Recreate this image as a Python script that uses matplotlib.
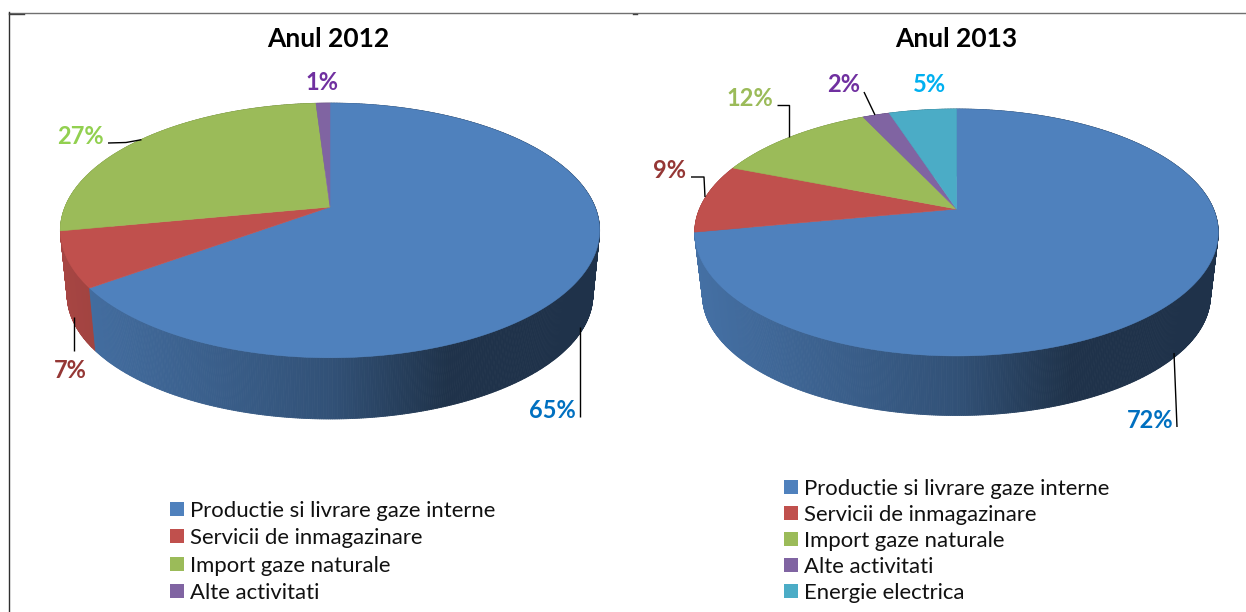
import numpy as np
import matplotlib
matplotlib.use("Agg")
import matplotlib.pyplot as plt
from matplotlib.collections import PolyCollection
from matplotlib.colors import to_rgb
from matplotlib.patches import Polygon, Rectangle

plt.rcParams['font.family'] = ['Lato', 'DejaVu Sans']

# ---- data ----
categories = ["Productie si livrare gaze interne", "Servicii de inmagazinare",
              "Import gaze naturale", "Alte activitati", "Energie electrica"]
values_2012 = [65, 7, 27, 1]
values_2013 = [72, 9, 12, 2, 5]
title_2012 = "Anul 2012"
title_2013 = "Anul 2013"
slice_colors = ["#4f81bd", "#c0504d", "#9bbb59", "#8064a2", "#4bacc6"]

# ---- layout (pixels of the figure) ----
W, H = 1246, 612
fig = plt.figure(figsize=(W / 100, H / 100), dpi=100)
ax = fig.add_axes([0, 0, 1, 1])
ax.set_xlim(0, W)
ax.set_ylim(H, 0)
ax.axis("off")

STOPS_T = [0.0, 0.5, 0.72, 1.0]
STOPS_F = [0.87, 0.63, 0.39, 0.39]


def project(theta, g, lower=False):
    """Perspective view of a point of the pie's rim (theta clockwise from top)."""
    u, v = np.sin(theta), np.cos(theta)
    s = g["s"] if lower else 1.0
    dy = g["d"] if lower else 0.0
    den = 1 + g["k"] * v
    return g["x0"] + s * g["B"] * u / den, g["y0"] + dy - s * g["A"] * v / den


def draw_pie(values, g):
    cum = np.cumsum([0] + list(values)) / sum(values) * 2 * np.pi
    left, width = g["x0"] - g["B"] * 1.02, 2 * g["B"] * 1.02
    quads = []
    for i in range(len(values)):
        n = max(4, int((cum[i + 1] - cum[i]) / (2 * np.pi) * 900))
        th = np.linspace(cum[i], cum[i + 1], n)
        xt, yt = project(th, g)
        xb, yb = project(th, g, lower=True)
        base = np.array(to_rgb(slice_colors[i]))
        for j in range(n - 1):
            poly = [(xt[j], yt[j]), (xt[j + 1], yt[j + 1]), (xb[j + 1], yb[j + 1]), (xb[j], yb[j])]
            t = ((xt[j] + xt[j + 1]) / 2 - left) / width
            quads.append(((yt[j] + yt[j + 1]) / 2, poly, base * np.interp(t, STOPS_T, STOPS_F)))
    # painter's order: rim pieces nearer the viewer go on top of the farther ones
    quads.sort(key=lambda q: q[0])
    polys = [q[1] for q in quads]
    cols = [q[2] for q in quads]
    ax.add_collection(PolyCollection(polys, facecolors=cols, edgecolors=cols, linewidths=0.6, zorder=2))
    for i in range(len(values)):
        n = max(4, int((cum[i + 1] - cum[i]) / (2 * np.pi) * 900))
        th = np.linspace(cum[i], cum[i + 1], n)
        xt, yt = project(th, g)
        pts = np.column_stack([np.r_[g["x0"], xt], np.r_[g["y0"], yt]])
        ax.add_patch(Polygon(pts, closed=True, facecolor=slice_colors[i], edgecolor=slice_colors[i],
                             linewidth=0.4, zorder=3))


def draw_legend(n, x, ys, xt):
    for i in range(n):
        ax.add_patch(Rectangle((x, ys[i] - 7), 14, 14, facecolor=slice_colors[i], edgecolor="none", zorder=3))
        ax.text(xt, ys[i], categories[i], fontsize=LEG_FS, va="center_baseline", ha="left", color="#111111")


LEG_FS = 15.9
LAB_FS = 17
TIT_FS = 19

geom_2012 = dict(x0=330, y0=207, A=123, B=265, k=0.184, s=0.975, d=65)
geom_2013 = dict(x0=956.5, y0=209, A=119, B=257, k=0.19, s=0.97, d=64)
draw_pie(values_2012, geom_2012)
draw_pie(values_2013, geom_2013)

ax.text(328, 37, title_2012, fontsize=TIT_FS, fontweight="bold", ha="center", va="center_baseline", color="black")
ax.text(956, 37, title_2013, fontsize=TIT_FS, fontweight="bold", ha="center", va="center_baseline", color="black")

label_cols_2012 = ["#0070c0", "#953735", "#92d050", "#7030a0"]
label_pos_2012 = [(552, 409), (70, 368), (80, 135), (322, 81)]
label_cols_2013 = ["#0070c0", "#953735", "#9bbb59", "#7030a0", "#00b0f0"]
label_pos_2013 = [(1150, 419), (670, 169), (750, 97), (843.5, 83), (930, 83)]

for vals, pos, cols in [(values_2012, label_pos_2012, label_cols_2012),
                        (values_2013, label_pos_2013, label_cols_2013)]:
    for v, (x, y), c in zip(vals, pos, cols):
        ax.text(x, y, f"{v}%", fontsize=LAB_FS, fontweight="bold", color=c, ha="center", va="center_baseline", zorder=5)

leaders = [
    [(108, 143), (126, 142.5), (141.5, 139.7)],
    [(74, 317), (74, 351)],
    [(580, 327), (580, 417)],
    [(864, 92), (875, 115)],
    [(777, 105), (789, 105), (789, 137)],
    [(691, 177), (704, 177), (705, 197)],
    [(1174, 353), (1177, 427)],
]
for pts in leaders:
    xs, ys = zip(*pts)
    ax.plot(xs, ys, color="black", lw=1.0, zorder=4, solid_capstyle="butt")

draw_legend(4, 170, [509, 536, 564, 591], 190)
draw_legend(5, 784, [487, 513, 539, 565, 591], 804)

# frame fragments of the scanned page
ax.plot([9, W], [12.5, 12.5], color="#707070", lw=1.0, zorder=1)
ax.plot([9, 9], [12, H], color="#303030", lw=1.0, zorder=1)
ax.plot([9, 24], [13.5, 13.5], color="#404040", lw=1.0, zorder=1)
ax.plot([633, 637], [13.5, 13.5], color="#404040", lw=1.0, zorder=1)

fig.savefig("out.png", dpi=100)
